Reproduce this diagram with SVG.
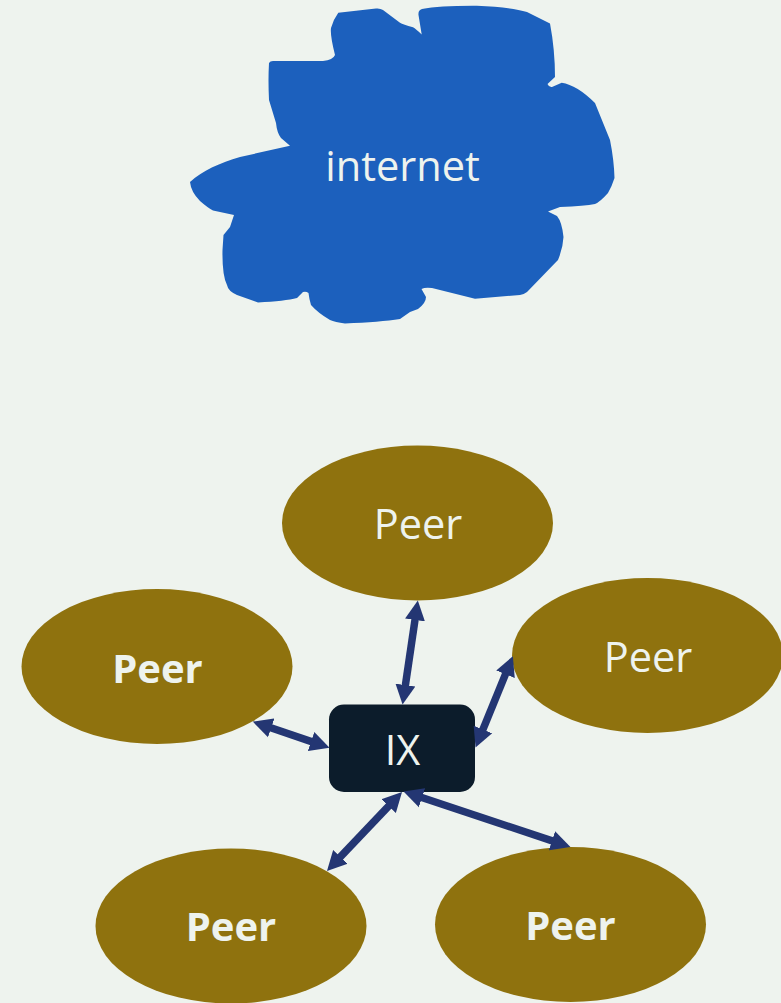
<svg xmlns="http://www.w3.org/2000/svg" width="781" height="1003" viewBox="0 0 781 1003">
<style>
.peer{fill:#8f720e}
.t{font-family:"Open Sans","Noto Sans",sans-serif;fill:#eef3ee;text-anchor:middle;font-size:41.500px}
.b{font-weight:700;font-size:40px}
.c{stroke:#243673;stroke-width:7.500;fill:none;marker-start:url(#a);marker-end:url(#a)}
</style>
<defs>
<marker id="a" markerUnits="userSpaceOnUse" markerWidth="21" markerHeight="21" refX="9" refY="10" orient="auto-start-reverse" viewBox="0 0 21 20"><path d="M0 0L19.500 10L0 20z" fill="#243673"/></marker>
</defs>
<rect width="781" height="1003" fill="#eef3ee"/>
<g id="cloud">
<path fill="#1c60bd" d="M338.300 12.700L376 8.500Q380 8 383 10L400 22.700Q403 24.500 413 27.300Q416 29 421.700 34.500L418.500 15Q418 10 422 9Q440 5.500 476.700 5.700Q510 7 527 12L550 23.500Q555 50 555 77L547.500 84Q549 87.500 552 87L561.700 82.700Q577 85 595 103L610 140Q614 160 614.500 178Q612 186 608 193Q600 202 595 204Q585 206 560 207L548 211.500L557 216Q562 222 563.500 237Q563 248 558 260L527 292Q523 295 520 295L475 298.700L432 288Q425 287 421.500 289L426 297Q426 303 418 309L410 312L400 319Q380 322 345 323.500Q335 322 330 320Q318 313 311 305Q309 298 308.500 293Q306 291 303 292L297 298Q285 301 258 302.500L237 295Q228 291 227 285Q222 275 222.500 250L223.500 235L230 227L234 215L213 210.500Q208 208 200 201Q191 192 190 182C203 170 220 163 240 157L290 145.700L281 138Q277 133 276 123L269 100Q268 80 269 63Q270 61 273 61Q300 61 323 61Q333 60 335 55Q330 35 331 28Q333 20 338.300 12.700Z"/>
<text class="t" x="402.500" y="181">internet</text>
</g>
<g id="peer-top"><ellipse class="peer" cx="417.500" cy="523" rx="135.500" ry="77.500"/><text class="t" x="418" y="539">Peer</text></g>
<g id="peer-right"><ellipse class="peer" cx="647.500" cy="655.500" rx="135.500" ry="77.500"/><text class="t" x="648" y="672">Peer</text></g>
<g id="peer-left"><ellipse class="peer" cx="157" cy="666.500" rx="135.500" ry="77.500"/><text class="t b" x="157.500" y="683">Peer</text></g>
<g id="peer-bottom-left"><ellipse class="peer" cx="231" cy="926" rx="135.500" ry="77.500"/><text class="t b" x="231" y="941">Peer</text></g>
<g id="peer-bottom-right"><ellipse class="peer" cx="570.500" cy="924.500" rx="135.500" ry="77.500"/><text class="t b" x="570.500" y="940">Peer</text></g>
<g id="ix"><rect x="329" y="704.500" width="146" height="87.500" rx="15" fill="#0c1c2b"/><text class="t" x="402.500" y="765">IX</text></g>
<g id="connectors">
<line class="c" x1="416.300" y1="611" x2="404.100" y2="694"/>
<line class="c" x1="508.900" y1="665.900" x2="479.500" y2="737.800"/>
<line class="c" x1="262.700" y1="725" x2="319.600" y2="744.400"/>
<line class="c" x1="394.800" y1="799.600" x2="334.200" y2="863.400"/>
<line class="c" x1="413.500" y1="794.800" x2="560.500" y2="843.600"/>
</g>
</svg>
